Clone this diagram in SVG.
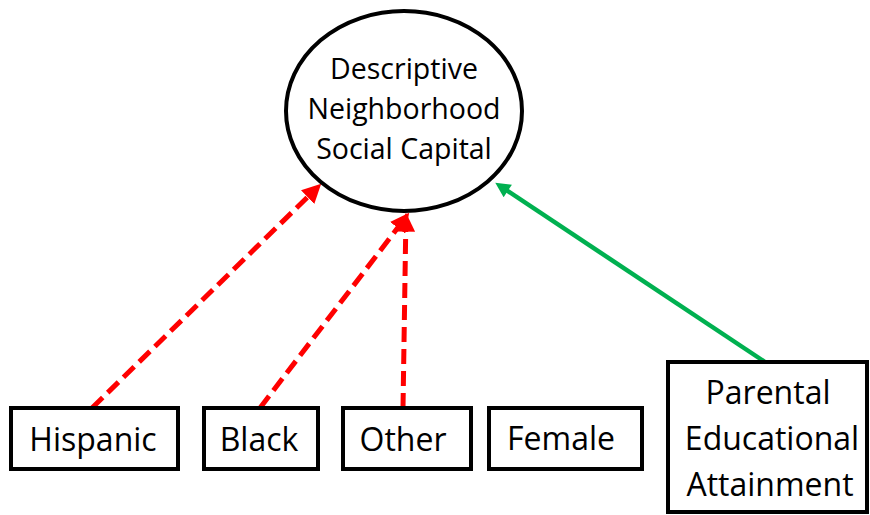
<svg xmlns="http://www.w3.org/2000/svg" width="870" height="515" viewBox="0 0 870 515">
  <style>
    .node { fill: #ffffff; stroke: #000000; stroke-width: 4; }
    .lbl { font-family: "Open Sans", "Liberation Sans", sans-serif; fill: #000000; text-anchor: middle; }
    .big { font-size: 28.5px; }
    .box { font-size: 32px; }
    .neg { stroke: #ff0000; stroke-width: 5; stroke-dasharray: 15 7; fill: none; }
    .pos { stroke: #00b050; stroke-width: 4.5; fill: none; }
  </style>
  <defs>
    <marker id="headRed" viewBox="0 0 10 10" refX="3" refY="5" markerWidth="19" markerHeight="19" markerUnits="userSpaceOnUse" orient="auto">
      <path d="M0,0 L10,5 L0,10 z" fill="#ff0000"/>
    </marker>
    <marker id="headGreen" viewBox="0 0 10 10" refX="3" refY="5" markerWidth="16" markerHeight="15" markerUnits="userSpaceOnUse" orient="auto">
      <path d="M0,0 L10,5 L0,10 z" fill="#00b050"/>
    </marker>
  </defs>

  <rect width="870" height="515" fill="#ffffff"/>

  <g id="connectors">
    <line class="neg" x1="92" y1="408" x2="311.7" y2="193.1" marker-end="url(#headRed)"/>
    <line class="neg" x1="260" y1="408" x2="401.1" y2="223.3" marker-end="url(#headRed)"/>
    <line class="neg" x1="403" y1="408" x2="405.8" y2="226" marker-end="url(#headRed)"/>
    <line class="pos" x1="765" y1="362" x2="504" y2="188.5" marker-end="url(#headGreen)"/>
  </g>

  <g id="social-capital">
    <ellipse class="node" cx="404" cy="111" rx="118" ry="100"/>
    <text class="lbl big" x="404" y="79">Descriptive</text>
    <text class="lbl big" x="404" y="119">Neighborhood</text>
    <text class="lbl big" x="404" y="159">Social Capital</text>
  </g>

  <g id="hispanic">
    <rect class="node" x="11" y="408" width="167" height="61"/>
    <text class="lbl box" x="93" y="451">Hispanic</text>
  </g>

  <g id="black">
    <rect class="node" x="204" y="408" width="114" height="61"/>
    <text class="lbl box" x="259" y="451">Black</text>
  </g>

  <g id="other">
    <rect class="node" x="343" y="408" width="128" height="61"/>
    <text class="lbl box" x="403" y="451">Other</text>
  </g>

  <g id="female">
    <rect class="node" x="489" y="408" width="153" height="61"/>
    <text class="lbl box" x="561" y="450">Female</text>
  </g>

  <g id="parental-education">
    <rect class="node" x="668" y="362" width="199" height="150"/>
    <text class="lbl box" x="768" y="404">Parental</text>
    <text class="lbl box" x="772" y="450">Educational</text>
    <text class="lbl box" x="770" y="496">Attainment</text>
  </g>
</svg>
